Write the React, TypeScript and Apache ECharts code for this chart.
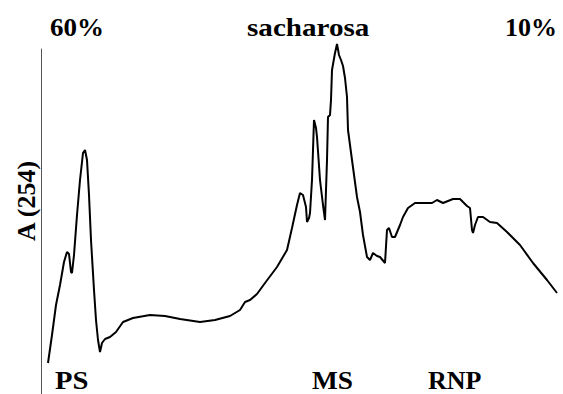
import React, { useEffect, useRef } from "react";
import * as echarts from "echarts";

// Gradient position (a.u., 0 = 60% bottom of tube) vs A(254) (a.u.), read from the profile
const positions: number[] = [
  7, 11, 15, 19, 23, 26, 28, 30, 31, 33,
  36, 39, 42, 44, 46, 48, 50, 53, 55, 57,
  59, 61, 64, 69, 75, 82, 92, 109, 124, 139,
  159, 174, 189, 199, 204, 209, 216, 224, 236, 246,
  251, 256, 259, 262, 265, 266, 268, 269, 271, 273,
  275, 276, 279, 282, 284, 285, 286, 287, 289, 290,
  291, 294, 296, 298, 300, 302, 304, 306, 307, 311,
  316, 319, 322, 326, 329, 332, 336, 339, 344, 346,
  348, 351, 354, 359, 362, 367, 374, 391, 396, 402,
  412, 419, 426, 429, 431, 432, 434, 437, 442, 449,
  456, 466, 479, 492, 506, 516,
];
const absorbance: number[] = [
  31, 59, 89, 109, 132, 142, 140, 122, 121, 139,
  179, 214, 241, 244, 234, 199, 154, 104, 74, 54,
  42, 51, 55, 57, 62, 72, 76, 79, 78, 75,
  72, 74, 78, 84, 92, 94, 100, 111, 127, 144,
  166, 189, 201, 199, 187, 172, 176, 181, 214, 274,
  266, 257, 214, 189, 174, 204, 234, 277, 279, 294,
  324, 341, 350, 339, 334, 328, 316, 297, 264, 234,
  197, 182, 159, 137, 134, 141, 138, 137, 131, 164,
  166, 157, 157, 169, 177, 186, 191, 191, 194, 191,
  195, 195, 188, 186, 164, 161, 169, 177, 177, 172,
  171, 162, 149, 131, 114, 101,
];

const topLabels = ["60%", "sacharosa", "10%"];
const bandLabels = ["PS", "MS", "RNP"];
const yAxisTitle = "A (254)";

const FONT = "'Liberation Serif', 'Times New Roman', serif";
const FONT_CSS = `bold 26px ${FONT}`;

export default function App() {
  const ref = useRef<HTMLDivElement>(null);

  useEffect(() => {
    if (!ref.current) return;
    const chart = echarts.init(ref.current, undefined, { renderer: "svg" });
    const n = Math.min(positions.length, absorbance.length);
    const data = positions.slice(0, n).map((x, i) => [x, absorbance[i]]);
    const txt = (text: string, x: number, y: number, scaleX = 1) => ({
      type: "text",
      x,
      y,
      scaleX,
      style: {
        text,
        fill: "#000",
        font: FONT_CSS,
        align: "left",
        verticalAlign: "top",
      },
    });
    chart.setOption({
      animation: false,
      backgroundColor: "#fff",
      grid: { left: 41, top: 49, right: 0, bottom: 0, containLabel: false },
      xAxis: {
        type: "value",
        min: 0,
        max: 522,
        show: false,
      },
      yAxis: {
        type: "value",
        min: 0,
        max: 345,
        axisLine: { show: true, lineStyle: { color: "#555", width: 1 } },
        axisTick: { show: false },
        axisLabel: { show: false },
        splitLine: { show: false },
      },
      series: [
        {
          type: "line",
          data,
          smooth: false,
          symbol: "none",
          clip: false,
          lineStyle: { color: "#000", width: 2 },
        },
      ],
      graphic: [
        txt(topLabels[0], 50, 14, 1.04),
        txt(topLabels[1], 247, 14, 1.12),
        txt(topLabels[2], 505, 14, 1.0),
        txt(bandLabels[0], 55, 367, 1.1),
        txt(bandLabels[1], 312, 367, 1.05),
        txt(bandLabels[2], 428, 367, 1.0),
        {
          type: "text",
          x: 13,
          y: 201,
          rotation: Math.PI / 2,
          style: {
            text: yAxisTitle,
            fill: "#000",
            font: FONT_CSS,
            align: "center",
            verticalAlign: "top",
          },
        },
      ],
    });
    return () => chart.dispose();
  }, []);

  return (
    <div
      ref={ref}
      style={{ position: "fixed", left: 0, top: 0, width: 563, height: 394 }}
    />
  );
}
